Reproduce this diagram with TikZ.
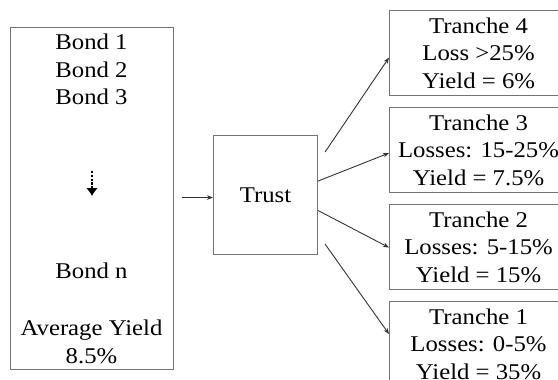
\documentclass[tikz,border=0pt]{standalone}
\usepackage{fontspec}
\setmainfont{Liberation Serif}[FakeStretch=1.1]
\usetikzlibrary{arrows.meta,calc}

\tikzset{
  box/.style={draw=black!55, line width=1.1pt, fill=white, inner sep=0pt},
  txt/.style={font=\fontsize{22.5}{27.5}\selectfont, text=black, align=center, inner sep=0pt},
  conn/.style={draw=black!80, line width=0.9pt, -{Stealth[length=6pt,width=4.5pt]}},
}

\begin{document}
\begin{tikzpicture}[x=1pt,y=-1pt]
  \useasboundingbox (0,0) rectangle (558,380);

  % pool of bonds
  \node[box, anchor=north west, minimum width=163pt, minimum height=342pt] (bonds) at (10,27) {};
  \node[txt] (b1) at (91.5,42) {Bond 1};
  \node[txt] (b2) at (91.5,70) {Bond 2};
  \node[txt] (b3) at (91.5,97) {Bond 3};
  \coordinate (dtop) at (92,171);
  \coordinate (dbot) at (92,196);
  \draw[line width=2.6pt, dash pattern=on 2.2pt off 1.6pt,
        -{Latex[length=8pt,width=12pt]}] (dtop) -- (dbot);
  \node[txt] (bn) at (91.5,271) {Bond n};
  \node[txt] (avg) at (91.5,342) {Average Yield\\8.5\%};

  % trust
  \node[box, anchor=north west, minimum width=104pt, minimum height=119pt, txt] (trust) at (213,135) {Trust};

  % tranches
  \node[box, txt, anchor=north west, minimum width=178pt, minimum height=85pt] (t4) at (389,10)
    {Tranche 4\\Loss >25\%\\Yield = 6\%};
  \node[box, txt, anchor=north west, minimum width=178pt, minimum height=85pt] (t3) at (389,107)
    {Tranche 3\\Losses: 15-25\%\\Yield = 7.5\%};
  \node[box, txt, anchor=north west, minimum width=178pt, minimum height=85pt] (t2) at (389,204)
    {Tranche 2\\Losses: 5-15\%\\Yield = 15\%};
  \node[box, txt, anchor=north west, minimum width=178pt, minimum height=85pt] (t1) at (389,301)
    {Tranche 1\\Losses: 0-5\%\\Yield = 35\%};

  % flows
  \draw[conn] ($(bonds.east)+(8,-1)$) -- ($(trust.west)+(0,2.5)$);
  \draw[conn] ($(trust.north east)+(7,17)$) -- ($(t4.west)+(0,4.5)$);
  \draw[conn] ($(trust.east)+(0,-14)$) -- ($(t3.west)+(0,3)$);
  \draw[conn] ($(trust.east)+(0,15.5)$) -- ($(t2.west)+(0,0.5)$);
  \draw[conn] ($(trust.south east)+(7,-11)$) -- ($(t1.west)+(0,-10)$);
\end{tikzpicture}
\end{document}
